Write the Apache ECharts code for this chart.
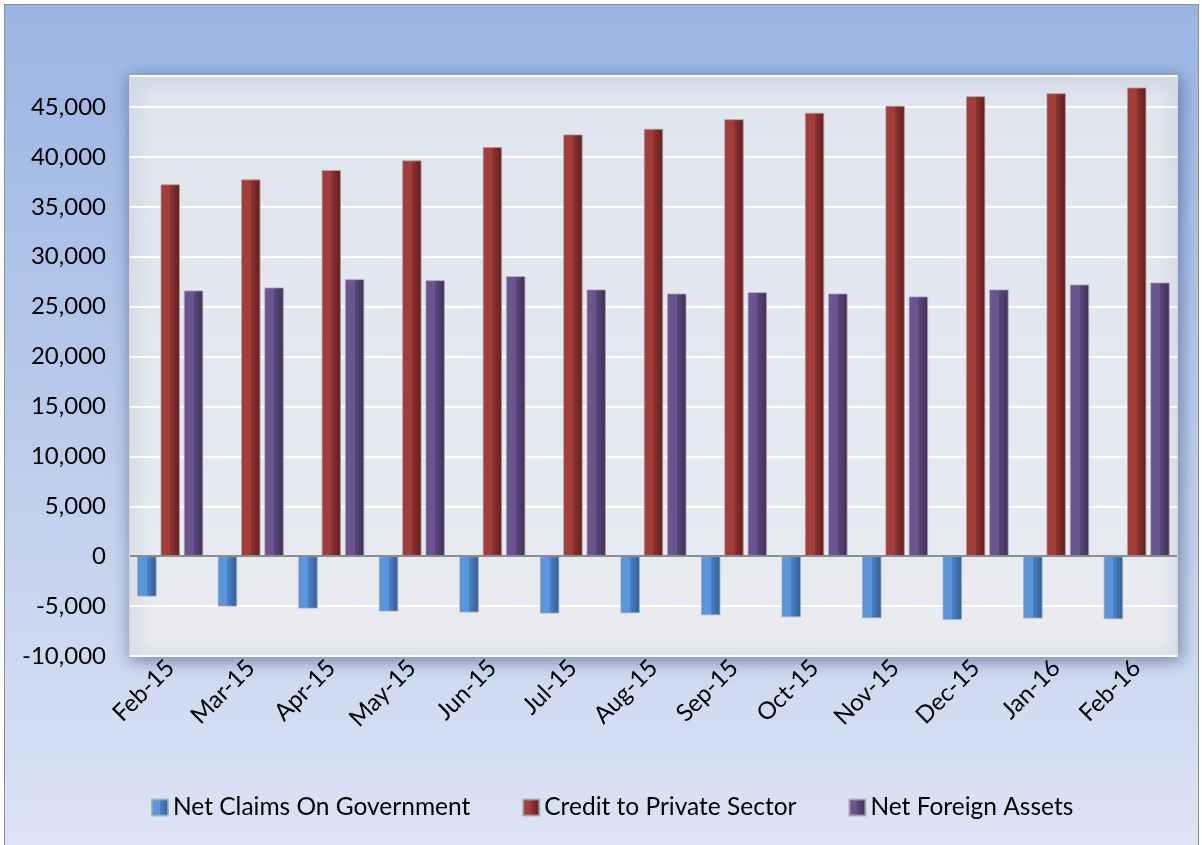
<!DOCTYPE html>
<html>
<head>
<meta charset="utf-8">
<script src="https://cdn.jsdelivr.net/npm/echarts@6/dist/echarts.min.js"></script>
<style>
  html, body { margin: 0; padding: 0; background: #ffffff; }
  #frame {
    position: absolute; left: 4px; top: 4px; width: 1193px; height: 845px;
    border: 1px solid #8e8e8e; border-bottom: none;
    background: linear-gradient(to bottom, #9ab5e3 0%, #b7c9ea 45%, #dce4f4 100%);
  }
  #main { position: absolute; left: 0; top: 0; width: 1202px; height: 845px; }
</style>
</head>
<body>
<div id="frame"></div>
<div id="main"></div>
<script>
// categories and values
const months = ['Feb-15', 'Mar-15', 'Apr-15', 'May-15', 'Jun-15', 'Jul-15', 'Aug-15',
  'Sep-15', 'Oct-15', 'Nov-15', 'Dec-15', 'Jan-16', 'Feb-16']
const netClaimsOnGov = [-4050, -5050, -5250, -5550, -5650, -5750, -5720, -5920, -6120, -6220, -6380, -6250, -6320]
const creditPrivate = [37250, 37750, 38680, 39650, 40980, 42250, 42820, 43780, 44420, 45120, 46080, 46380, 46950]
const netForeignAssets = [26620, 26920, 27750, 27650, 28050, 26720, 26320, 26450, 26320, 26020, 26720, 27220, 27420]

const FONT = 'Lato, "Open Sans", sans-serif'

// horizontal gradient to fake the bevelled bar look
function bevel(light, mid, dark) {
  return new echarts.graphic.LinearGradient(0, 0, 1, 0, [
    { offset: 0, color: dark },
    { offset: 0.08, color: light },
    { offset: 0.5, color: light },
    { offset: 0.5, color: mid },
    { offset: 0.9, color: dark },
    { offset: 1, color: dark }
  ])
}

const chart = echarts.init(document.getElementById('main'))
chart.setOption({
  backgroundColor: 'transparent',
  animation: false,
  grid: {
    left: 130, top: 76, right: 25, bottom: 189,
    show: true,
    backgroundColor: new echarts.graphic.LinearGradient(0, 0, 0, 1, [
      { offset: 0, color: '#dfe4ee' },
      { offset: 1, color: '#e9ebf0' }
    ]),
    borderColor: '#d6d9e0',
    borderWidth: 2,
    shadowBlur: 16,
    shadowColor: 'rgba(40, 60, 110, 0.55)',
    shadowOffsetX: 2,
    shadowOffsetY: 3
  },
  legend: {
    left: 146, top: 790,
    itemWidth: 16, itemHeight: 16, itemGap: 52,
    icon: 'rect',
    textStyle: { fontFamily: FONT, fontSize: 24.5, color: '#000' }
  },
  xAxis: {
    type: 'category',
    data: months,
    axisLine: { show: false, onZero: false },
    axisTick: { show: false },
    axisLabel: {
      rotate: 45, margin: 8, interval: 0,
      fontFamily: FONT, fontSize: 24, color: '#000'
    }
  },
  yAxis: {
    type: 'value',
    min: -10000, max: 48100, interval: 5000,
    axisLine: { show: false },
    axisTick: { show: false },
    splitLine: { lineStyle: { color: '#ffffff', width: 2 } },
    axisLabel: {
      margin: 24, fontFamily: FONT, fontSize: 24, color: '#000',
      showMaxLabel: false,
      formatter: v => (v % 5000 === 0 ? v.toLocaleString('en-US') : '')
    }
  },
  series: [
    {
      name: 'Net Claims On Government',
      type: 'bar',
      data: netClaimsOnGov,
      barGap: '20%', barCategoryGap: '18%',
      itemStyle: { color: bevel('#5b95dc', '#4a82c6', '#36659e'), borderColor: 'rgba(160,170,190,0.8)', borderWidth: 1 },
      markLine: {
        silent: true, symbol: 'none', label: { show: false },
        lineStyle: { color: '#8c8c8c', width: 2, type: 'solid' },
        data: [{ yAxis: 0 }]
      }
    },
    {
      name: 'Credit to Private Sector',
      type: 'bar',
      data: creditPrivate,
      itemStyle: { color: bevel('#a33d3a', '#8e3331', '#6a2321'), borderColor: 'rgba(170,160,165,0.8)', borderWidth: 1 }
    },
    {
      name: 'Net Foreign Assets',
      type: 'bar',
      data: netForeignAssets,
      itemStyle: { color: bevel('#6b5590', '#5b467b', '#45355e'), borderColor: 'rgba(170,165,180,0.8)', borderWidth: 1 }
    }
  ]
})
</script>
</body>
</html>
